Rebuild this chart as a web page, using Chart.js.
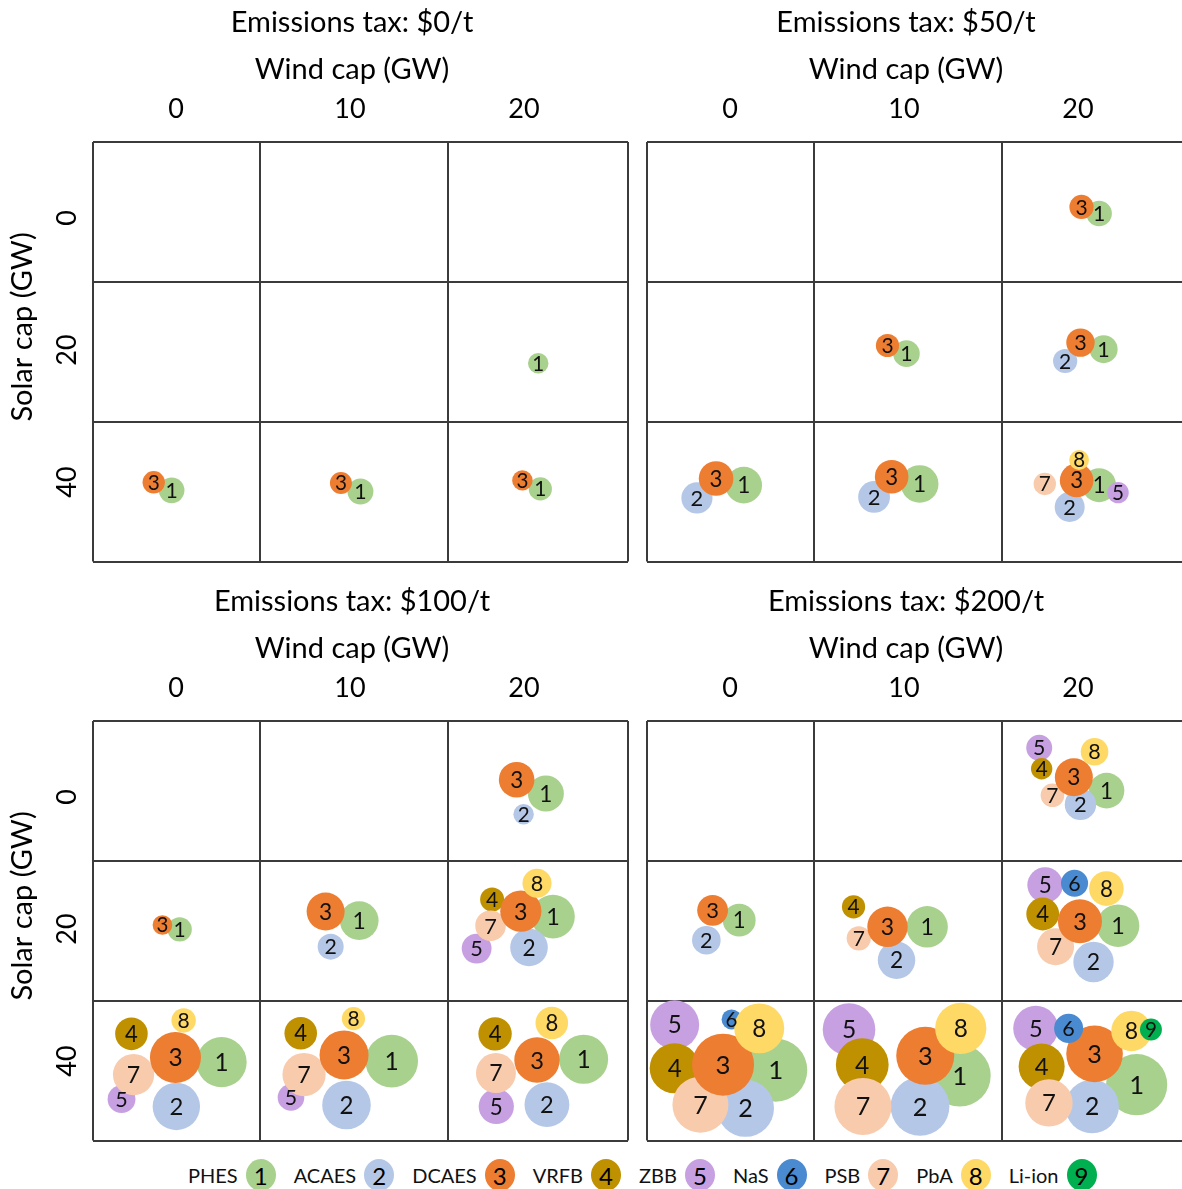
<!DOCTYPE html>
<html><head><meta charset="utf-8">
<script src="https://cdn.jsdelivr.net/npm/chart.js@4.4.1/dist/chart.umd.min.js"></script>
<style>
html,body{margin:0;padding:0;background:#fff;overflow:hidden;width:1182px;height:1189px;}
#wrap{position:relative;width:1182px;height:1189px;overflow:hidden;background:#fff;}
canvas.p{position:absolute;}
#legend{position:absolute;left:188px;top:1159px;display:flex;align-items:center;font-family:Lato,sans-serif;font-size:20px;color:#111;z-index:5;white-space:nowrap}
.item{display:flex;align-items:center;margin-right:18px}
.dot{width:30px;height:32px;border-radius:50%;display:flex;align-items:center;justify-content:center;font-size:24px;margin-left:8px;color:#000}
</style></head>
<body><div id="wrap">
<canvas id="c0" class="p" width="704" height="580" style="left:0;top:0"></canvas>
<canvas id="c1" class="p" width="704" height="580" style="left:554px;top:0"></canvas>
<canvas id="c2" class="p" width="704" height="580" style="left:0;top:579px"></canvas>
<canvas id="c3" class="p" width="704" height="580" style="left:554px;top:579px"></canvas>
<div id="legend"></div>
</div>
<script>
// ---------- data ----------
const techNames = ['PHES','ACAES','DCAES','VRFB','ZBB','NaS','PSB','PbA','Li-ion'];
const techColors = ['#A9D18E','#B4C7E7','#ED7D31','#BF9000','#C7A0E2','#4A8AD0','#F8CBAD','#FFD966','#00B050'];
const taxLabels = ['Emissions tax: $0/t','Emissions tax: $50/t','Emissions tax: $100/t','Emissions tax: $200/t'];
const windTicks = [0,10,20];
const solarTicks = [0,20,40];
const windTitle = 'Wind cap (GW)';
const solarTitle = 'Solar cap (GW)';

// rows: [tech, wind cap, solar cap, offset within cell (wind units), offset within cell (solar units), size]
const tax0 = [
 [1,20,20,0.82,2.02,11.6],
 [3,0,40,-1.28,0.05,13.9],[1,0,40,-0.25,1.27,18.2],
 [3,10,40,-0.52,0.15,13.4],[1,10,40,0.60,1.44,18.8],
 [3,20,40,-0.09,-0.24,11.6],[1,20,40,0.94,1.05,15.0]
];
const tax50 = [
 [3,20,0,0.20,-1.67,16.3],[1,20,0,1.21,-0.67,18.2],
 [3,10,20,-0.95,-0.68,15.0],[1,10,20,0.14,0.56,19.7],
 [3,20,20,0.14,-1.12,22.4],[1,20,20,1.47,-0.12,21.8],[2,20,20,-0.74,1.67,16.3],
 [3,0,40,-0.80,-0.52,33.3],[1,0,40,0.79,0.48,37.2],[2,0,40,-1.90,2.42,27.0],
 [3,10,40,-0.71,-0.80,31.4],[1,10,40,0.90,0.30,39.3],[2,10,40,-1.72,2.27,28.1],
 [8,20,40,0.06,-3.33,10.9],[7,20,40,-1.91,0.30,13.9],[3,20,40,-0.08,-0.24,31.4],
 [1,20,40,1.21,0.48,32.1],[5,20,40,2.30,1.61,12.7],[2,20,40,-0.48,3.79,25.0]
];
const tax100 = [
 [3,20,0,-0.42,-2.62,35.2],[1,20,0,1.26,-0.53,36.0],[2,20,0,-0.02,2.61,11.6],
 [3,0,20,-0.78,-0.61,10.7],[1,0,20,0.21,0.05,16.5],
 [3,10,20,-1.40,-2.65,40.1],[1,10,20,0.53,-1.27,41.8],[2,10,20,-1.11,2.68,18.8],
 [8,20,20,0.75,-6.94,23.4],[4,20,20,-1.83,-4.47,16.0],[3,20,20,-0.18,-2.70,47.2],
 [1,20,20,1.67,-1.88,52.8],[7,20,20,-1.92,-0.50,26.0],[5,20,20,-2.72,2.97,24.7],[2,20,20,0.29,2.80,39.3],
 [8,0,40,0.44,-6.14,16.5],[4,0,40,-2.56,-4.11,29.5],[3,0,40,-0.03,-0.53,72.3],
 [1,0,40,2.62,0.18,70.0],[7,0,40,-2.44,2.06,47.2],[5,0,40,-3.13,5.79,21.5],[2,0,40,0.02,6.89,62.4],
 [8,10,40,0.20,-6.42,15.0],[4,10,40,-2.83,-4.21,29.5],[3,10,40,-0.34,-0.91,66.7],
 [1,10,40,2.40,0.02,76.9],[7,10,40,-2.64,2.06,51.8],[5,10,40,-3.39,5.52,19.7],[2,10,40,-0.20,6.67,65.6],
 [8,20,40,1.60,-5.76,29.5],[4,20,40,-1.66,-4.11,31.0],[3,20,40,0.75,-0.15,57.3],
 [1,20,40,3.43,-0.26,66.7],[7,20,40,-1.61,1.83,44.4],[5,20,40,-1.59,6.89,34.4],[2,20,40,1.32,6.62,55.8]
];
const tax200 = [
 [5,20,0,-2.23,-7.45,18.8],[8,20,0,0.95,-6.86,21.2],[4,20,0,-2.09,-4.27,12.7],[3,20,0,-0.24,-3.00,40.1],
 [1,20,0,1.64,-0.97,35.2],[7,20,0,-1.47,-0.26,15.5],[2,20,0,0.14,1.12,27.4],
 [3,0,20,-1.00,-2.82,26.4],[1,0,20,0.53,-1.33,29.9],[2,0,20,-1.36,1.70,22.7],
 [4,10,20,-2.90,-3.36,15.0],[3,10,20,-0.95,-0.33,45.3],[1,10,20,1.33,-0.33,47.6],
 [7,10,20,-2.60,1.42,16.3],[2,10,20,-0.43,4.73,38.9],
 [5,20,20,-1.89,-6.67,35.2],[6,20,20,-0.20,-6.94,20.3],[8,20,20,1.63,-6.12,33.3],[4,20,20,-2.03,-2.27,29.9],
 [3,20,20,0.11,-1.17,53.8],[1,20,20,2.30,-0.50,50.4],[7,20,20,-1.29,2.68,38.0],[2,20,20,0.89,5.00,45.3],
 [5,0,40,-3.18,-5.48,66.7],[6,0,40,0.09,-6.30,11.1],[8,0,40,1.68,-4.94,69.4],[4,0,40,-3.18,1.12,69.4],
 [3,0,40,-0.40,0.56,106.8],[1,0,40,2.63,1.39,110.3],[7,0,40,-1.70,6.62,87.1],[2,0,40,0.89,7.17,90.3],
 [5,10,40,-3.16,-4.77,76.9],[8,10,40,3.26,-4.94,72.8],[4,10,40,-2.40,0.56,77.4],[3,10,40,1.22,-0.80,93.4],
 [1,10,40,3.20,2.21,106.8],[7,10,40,-2.36,6.89,90.3],[2,10,40,0.92,6.89,96.0],
 [5,20,40,-2.43,-4.94,56.3],[6,20,40,-0.54,-4.94,23.4],[8,20,40,3.07,-4.55,45.3],[9,20,40,4.19,-4.77,13.4],
 [3,20,40,0.95,-1.08,89.0],[4,20,40,-2.09,0.85,58.8],[1,20,40,3.37,3.59,104.0],[7,20,40,-1.67,6.35,62.4],[2,20,40,0.81,6.89,79.8]
];

// ---------- layout / styling ----------
const FONT = 'Lato';
Chart.defaults.font.family = FONT;
Chart.defaults.color = '#000';
const LINE = '#3b3b3b';
const drawOrder = [1,2,5,4,7,3,6,8,9]; // bottom -> top
const xMin = -4.77, xBounds = [4.85, 15.65];
const yMin = -11.515, yMax = 52.05, yBounds = [9.77, 30.9];
function rOf(v){ return 3*Math.sqrt(v); }
function noPad(s){ s.paddingTop = 0; s.paddingBottom = 0; s.paddingLeft = 0; s.paddingRight = 0; }

const labelPlugin = {
  id:'bubLabels',
  afterDatasetsDraw(chart){
    const c = chart.ctx;
    chart.data.datasets.forEach((ds, i) => {
      const meta = chart.getDatasetMeta(i);
      meta.data.forEach((el, j) => {
        const r = ds.data[j].r;
        const fs = 18 + 0.25*r;
        c.save();
        c.font = fs.toFixed(1) + 'px ' + FONT;
        c.fillStyle = '#111';
        c.textAlign = 'center';
        c.textBaseline = 'alphabetic';
        c.fillText(String(ds.tech), el.x, el.y + 0.36*fs);
        c.restore();
      });
    });
  }
};
const yTitlePlugin = {
  id:'ytitle',
  afterDraw(chart, args, opts){
    if(!opts.show) return;
    const c = chart.ctx;
    c.save();
    c.translate(23, chart.chartArea.top + 185);
    c.rotate(-Math.PI/2);
    c.font = '29px ' + FONT;
    c.fillStyle = '#000';
    c.textAlign = 'center';
    c.textBaseline = 'middle';
    c.fillText(solarTitle, 0, 0);
    c.restore();
  }
};

function buildDatasets(rows){
  return drawOrder.map((t, i) => ({
    label: techNames[t-1],
    tech: t,
    order: drawOrder.length - i,
    backgroundColor: techColors[t-1],
    borderWidth: 0,
    hoverBorderWidth: 0,
    hoverRadius: 0,
    clip: false,
    data: rows.filter(r => r[0] === t).map(r => ({x: r[1] + r[3], y: r[2] + r[4], r: rOf(r[5])}))
  }));
}

function makePanel(id, rows, title, isLeft){
  const rightW = isLeft ? 76 : 74;
  const xMax = isLeft ? 25.98 : 26.09;
  const bounds = (min, max, b) => [min, ...b, max];
  return new Chart(document.getElementById(id), {
    type: 'bubble',
    data: { datasets: buildDatasets(rows) },
    plugins: [labelPlugin, yTitlePlugin],
    options: {
      responsive: false, animation: false, events: [],
      layout: { autoPadding: false, padding: { left: 0, top: 0, right: 0, bottom: 18.5 } },
      plugins: {
        legend: { display: false }, tooltip: { enabled: false },
        title: { display: true, text: title, color: '#000', font: { size: 29, weight: 'normal', lineHeight: 1.2 }, padding: { top: 5.1, bottom: 0 } },
        subtitle: { display: true, text: windTitle, color: '#000', font: { size: 29, weight: 'normal', lineHeight: 1.2 }, padding: { top: 12.2, bottom: 0 } },
        ytitle: { show: isLeft }
      },
      scales: {
        x: {
          type: 'linear', position: 'top', min: xMin, max: xMax,
          afterBuildTicks: s => { s.ticks = bounds(xMin, xMax, xBounds).concat(windTicks).sort((a,b)=>a-b).map(v => ({value: v})); },
          afterFit: s => { s.height = 55.1; noPad(s); },
          grid: { drawTicks: false, lineWidth: 2, color: c => windTicks.includes(c.tick.value) ? 'rgba(0,0,0,0)' : LINE },
          border: { display: false },
          ticks: { autoSkip: false, maxRotation: 0, minRotation: 0, padding: 16.8, font: { size: 27 }, color: '#000',
                   callback: v => windTicks.includes(v) ? String(v) : '' }
        },
        y: {
          type: 'linear', position: 'left', reverse: true, min: yMin, max: yMax,
          afterBuildTicks: s => { s.ticks = bounds(yMin, yMax, yBounds).concat(solarTicks).sort((a,b)=>a-b).map(v => ({value: v})); },
          afterFit: s => { s.width = 93; noPad(s); },
          grid: { drawTicks: false, lineWidth: 2, color: c => solarTicks.includes(c.tick.value) ? 'rgba(0,0,0,0)' : LINE },
          border: { display: false },
          ticks: { display: isLeft, autoSkip: false, minRotation: 90, maxRotation: 90, crossAlign: 'center', padding: 10.5,
                   font: { size: 27 }, color: '#000', callback: v => solarTicks.includes(v) ? String(v) : '' }
        },
        yr: {
          type: 'linear', position: 'right', display: true,
          grid: { display: false }, border: { display: false }, ticks: { display: false },
          afterFit: s => { s.width = rightW; noPad(s); }
        }
      }
    }
  });
}

makePanel('c0', tax0, taxLabels[0], true);
makePanel('c1', tax50, taxLabels[1], false);
makePanel('c2', tax100, taxLabels[2], true);
makePanel('c3', tax200, taxLabels[3], false);

// legend
const lg = document.getElementById('legend');
techNames.forEach((n, i) => {
  const it = document.createElement('div'); it.className = 'item';
  const t = document.createElement('span'); t.textContent = n;
  const d = document.createElement('span'); d.className = 'dot'; d.style.background = techColors[i]; d.textContent = String(i+1);
  it.appendChild(t); it.appendChild(d); lg.appendChild(it);
});
</script>
</body></html>
